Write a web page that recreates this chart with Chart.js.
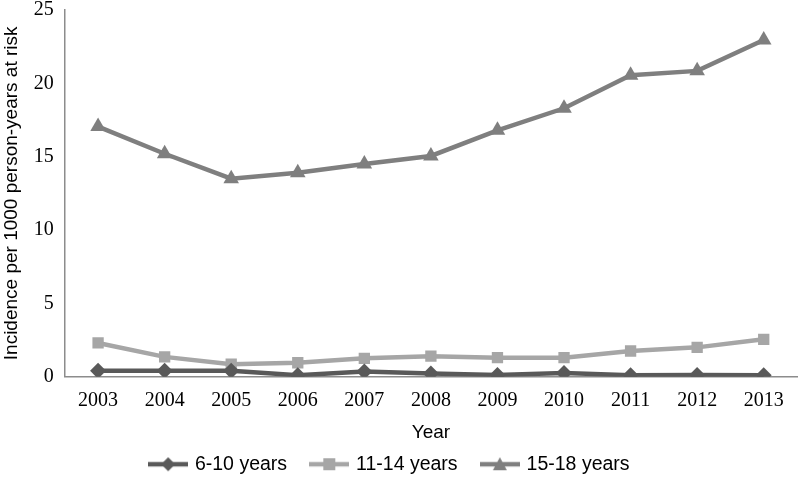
<!DOCTYPE html>
<html><head><meta charset="utf-8">
<script src="https://cdn.jsdelivr.net/npm/chart.js@4/dist/chart.umd.min.js"></script>
<style>html,body{margin:0;padding:0;background:#fff}#wrap{width:800px;height:484px}</style>
</head><body><div id="wrap"><canvas id="c" width="800" height="484"></canvas></div>
<script>
const years = ['2003','2004','2005','2006','2007','2008','2009','2010','2011','2012','2013'];
const age6to10 = [0.4,0.4,0.4,0.1,0.35,0.22,0.12,0.25,0.1,0.12,0.1];
const age11to14 = [2.3,1.35,0.85,0.95,1.25,1.4,1.3,1.3,1.75,2.0,2.55];
const age15to18 = [17.05,15.2,13.5,13.9,14.5,15.05,16.8,18.3,20.55,20.85,22.95];
const yTicks = [0,5,10,15,20,25];

const C1='#595959', C2='#a6a6a6', C3='#7f7f7f';
function legendIcon(color, shape){
  const cv=document.createElement('canvas'); cv.width=40; cv.height=16;
  const g=cv.getContext('2d');
  g.strokeStyle=color; g.lineWidth=4.5; g.beginPath(); g.moveTo(0,8); g.lineTo(40,8); g.stroke();
  g.fillStyle=color; g.beginPath();
  if(shape==='rectRot'){g.moveTo(20,1);g.lineTo(27,8);g.lineTo(20,15);g.lineTo(13,8);}
  else if(shape==='rect'){g.rect(14,2,12,12);}
  else {g.moveTo(20,1);g.lineTo(27,14);g.lineTo(13,14);}
  g.closePath(); g.fill();
  return cv;
}
const icons=[legendIcon(C1,'rectRot'),legendIcon(C2,'rect'),legendIcon(C3,'triangle')];

new Chart(document.getElementById('c'),{
  type:'line',
  data:{labels:years,datasets:[
    {label:'6-10 years',data:age6to10,borderColor:C1,backgroundColor:C1,borderWidth:4.5,pointStyle:'rectRot',pointRadius:8,pointBorderWidth:0,tension:0},
    {label:'11-14 years',data:age11to14,borderColor:C2,backgroundColor:C2,borderWidth:4.5,pointStyle:'rect',pointRadius:8,pointBorderWidth:0,tension:0},
    {label:'15-18 years',data:age15to18,borderColor:C3,backgroundColor:C3,borderWidth:4.5,pointStyle:'triangle',pointRadius:9,pointBorderWidth:0,tension:0}
  ]},
  options:{
    responsive:false,animation:false,
    layout:{autoPadding:false,padding:{top:10,right:3,left:0,bottom:0}},
    plugins:{
      tooltip:{enabled:false},
      legend:{position:'bottom',labels:{
        usePointStyle:true,pointStyleWidth:34,boxHeight:16,padding:9,
        color:'#000',font:{family:'"Liberation Sans", Arial, sans-serif',size:19.5},
        generateLabels:(chart)=>chart.data.datasets.map((d,i)=>({text:d.label+'   ',pointStyle:icons[i],fillStyle:d.borderColor,strokeStyle:d.borderColor,lineWidth:0,datasetIndex:i,fontColor:'#000'}))
      }}
    },
    scales:{
      x:{
        offset:true,
        afterFit:(s)=>{s.paddingLeft=0;s.paddingRight=0;},
        grid:{display:false,drawTicks:false,offset:true},
        border:{color:'#8c8c8c',width:1.5},
        ticks:{color:'#000',padding:12,font:{family:'"Liberation Serif", "DejaVu Serif", serif',size:20}},
        title:{display:true,text:'Year',color:'#000',padding:{top:-3,bottom:1},font:{family:'"Liberation Sans", Arial, sans-serif',size:19}}
      },
      y:{
        min:0,max:25,
        afterBuildTicks:(s)=>{s.ticks=yTicks.map(v=>({value:v}));},
        afterFit:(s)=>{s.paddingTop=0;},
        grid:{display:false,drawTicks:false},
        border:{color:'#8c8c8c',width:1.5},
        ticks:{color:'#000',padding:11,font:{family:'"Liberation Serif", "DejaVu Serif", serif',size:20}},
        title:{display:true,text:'Incidence per 1000 person-years at risk',color:'#000',padding:{top:0,bottom:0},font:{family:'"Liberation Sans", Arial, sans-serif',size:19}}
      }
    }
  }
});
</script></body></html>
